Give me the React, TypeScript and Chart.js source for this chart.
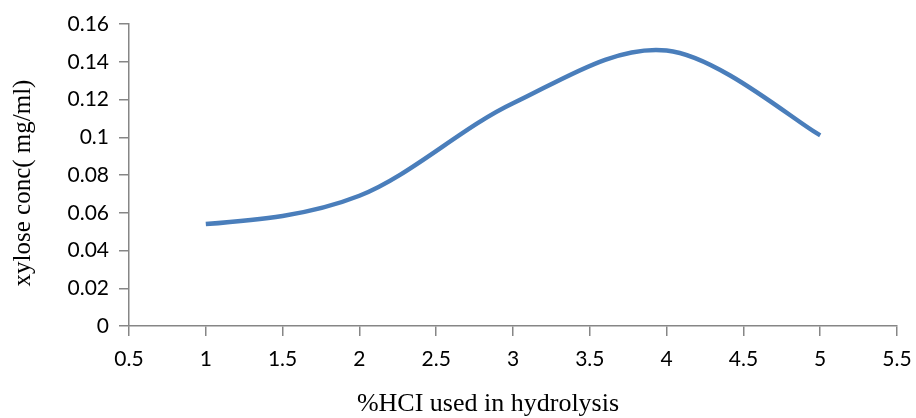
import React, { useEffect, useRef } from "react";
import { Chart, registerables } from "chart.js";

Chart.register(...registerables);

const hclPercent = [1, 2, 3, 4, 5];
const xyloseConc = [0.054, 0.069, 0.118, 0.146, 0.101];
const xTitle = "%HCI used in hydrolysis";
const yTitle = "xylose conc( mg/ml)";

// Office-style smoothed line: Catmull-Rom (1/6) tangents on the points Chart.js positioned,
// with a relaxed (natural) start.
const officeSmoothing = {
  id: "officeSmoothing",
  beforeDatasetsDraw(chart: any) {
    chart.data.datasets.forEach((_: any, di: number) => {
      const meta = chart.getDatasetMeta(di);
      const pts = meta.data;
      const n = pts.length;
      if (n < 3) return;
      for (let i = 0; i < n; i++) {
        const prev = pts[Math.max(i - 1, 0)];
        const next = pts[Math.min(i + 1, n - 1)];
        const dx = (next.x - prev.x) / 6;
        const dy = (next.y - prev.y) / 6;
        pts[i].cp1x = pts[i].x - dx;
        pts[i].cp1y = pts[i].y - dy;
        pts[i].cp2x = pts[i].x + dx;
        pts[i].cp2y = pts[i].y + dy;
      }
      pts[0].cp2x = (pts[0].x + pts[1].cp1x) / 2;
      pts[0].cp2y = (pts[0].y + pts[1].cp1y) / 2;
      if (meta.dataset) meta.dataset._pointsUpdated = true;
    });
  },
};

const axisTitles = {
  id: "axisTitles",
  afterDraw(chart: any) {
    const ctx = chart.ctx as CanvasRenderingContext2D;
    ctx.save();
    ctx.fillStyle = "#000";
    ctx.textAlign = "center";
    ctx.textBaseline = "alphabetic";
    ctx.font = "26px 'Liberation Serif'";
    ctx.fillText(xTitle, 488, 411);
    ctx.translate(30, 183);
    ctx.rotate(-Math.PI / 2);
    ctx.font = "25px 'Liberation Serif'";
    ctx.fillText(yTitle, 0, 0);
    ctx.restore();
  },
};

export default function App() {
  const ref = useRef<HTMLCanvasElement | null>(null);

  useEffect(() => {
    document.body.style.margin = "0";
    const ctx = ref.current!;
    const chart = new Chart(ctx, {
      type: "line",
      data: {
        datasets: [
          {
            data: hclPercent.map((x, i) => ({ x, y: xyloseConc[i] })),
            borderColor: "#4A7EBB",
            borderWidth: 4.5,
            pointRadius: 0,
            tension: 0.33,
            fill: false,
          },
        ],
      },
      plugins: [officeSmoothing, axisTitles],
      options: {
        animation: false,
        responsive: false,
        maintainAspectRatio: false,
        layout: { padding: { top: 24, right: 19, left: 0, bottom: 0 } },
        plugins: { legend: { display: false }, tooltip: { enabled: false } },
        scales: {
          x: {
            type: "linear",
            min: 0.5,
            max: 5.5,
            afterFit: (s: any) => {
              s.height = 92;
              s.paddingLeft = 0;
              s.paddingRight = 0;
            },
            ticks: {
              stepSize: 0.5,
              color: "#000",
              padding: 11,
              font: { family: "Lato", size: 21 },
              maxRotation: 0,
              callback: (v: any) => String(Number(v)),
            },
            grid: {
              display: true,
              drawOnChartArea: false,
              drawTicks: true,
              tickLength: 10,
              color: "#868686",
              lineWidth: 1.5,
            },
            border: { color: "#868686", width: 1.5 },
          },
          y: {
            type: "linear",
            min: 0,
            max: 0.16,
            afterFit: (s: any) => {
              s.width = 129;
            },
            ticks: {
              stepSize: 0.02,
              color: "#000",
              padding: 10,
              font: { family: "Lato", size: 21 },
              callback: (v: any) => String(Math.round(Number(v) * 100) / 100),
            },
            grid: {
              display: true,
              drawOnChartArea: false,
              drawTicks: true,
              tickLength: 10,
              color: "#868686",
              lineWidth: 1.5,
            },
            border: { color: "#868686", width: 1.5 },
          },
        },
      },
    });
    return () => chart.destroy();
  }, []);

  return (
    <div style={{ width: 916, height: 418, background: "#fff" }}>
      <canvas ref={ref} width={916} height={418} style={{ width: 916, height: 418 }} />
    </div>
  );
}
